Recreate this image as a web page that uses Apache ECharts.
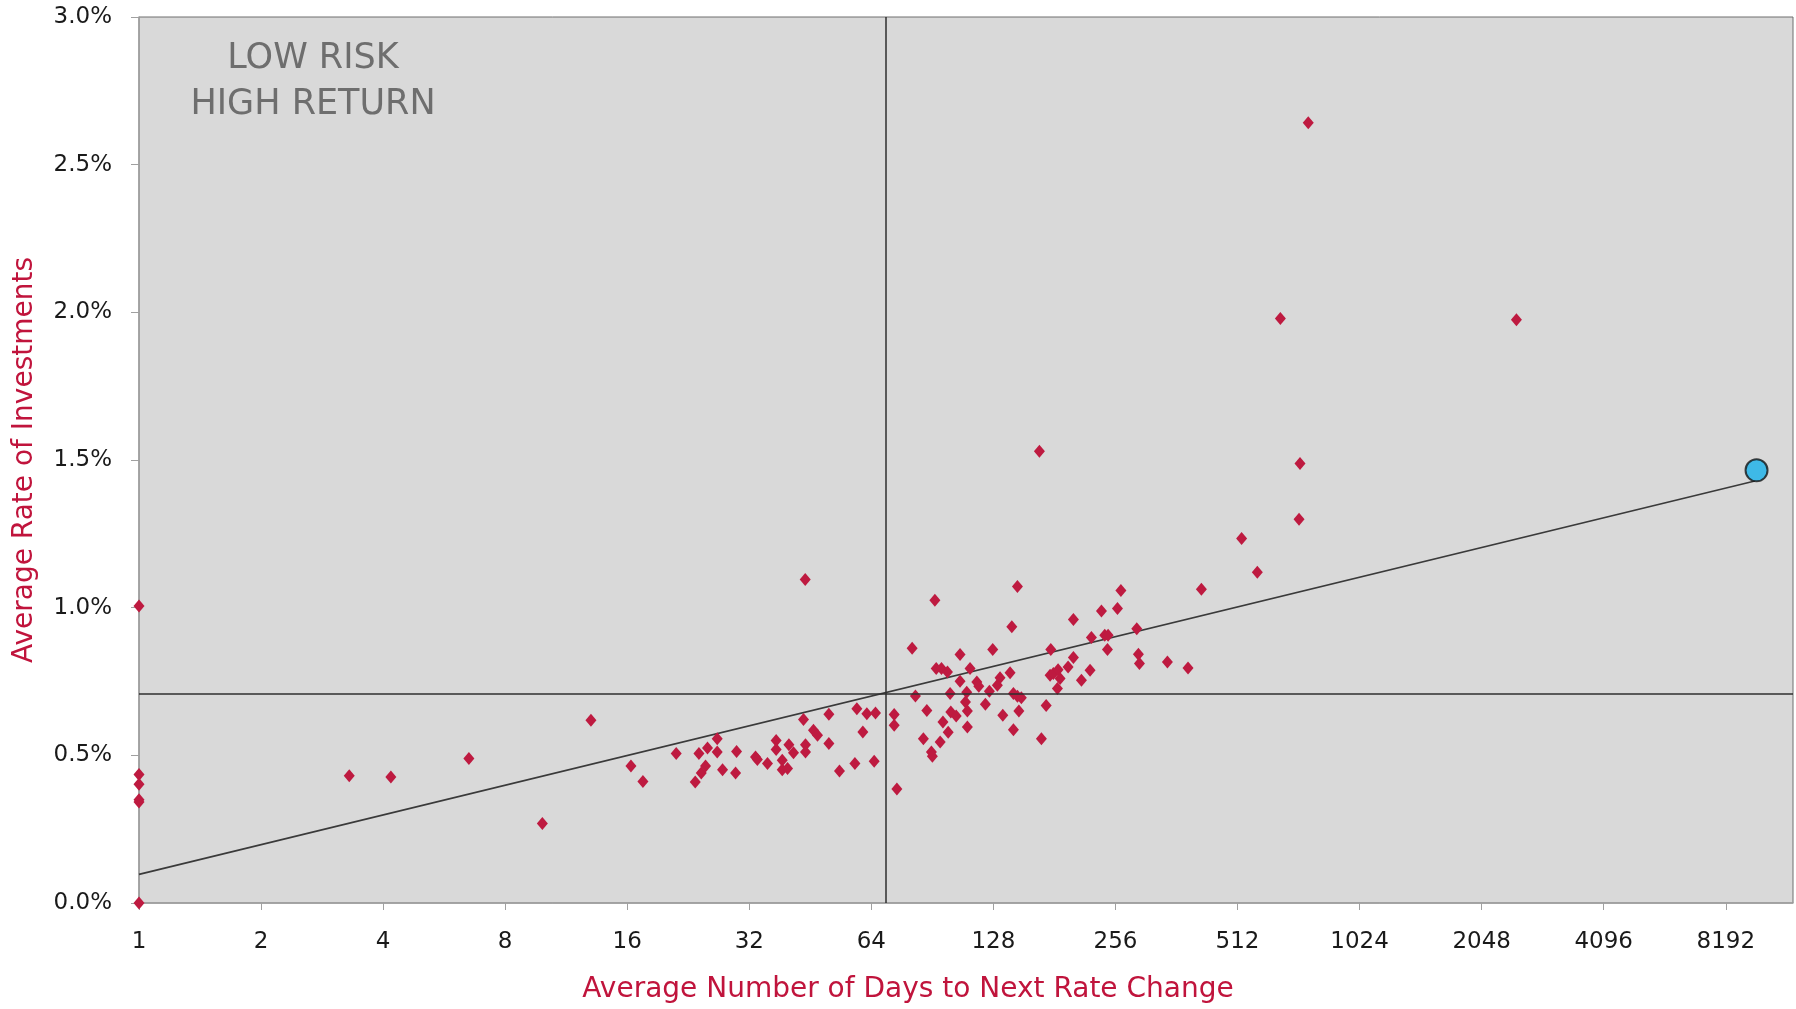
<!DOCTYPE html>
<html>
<head>
<meta charset="utf-8">
<script src="https://cdn.jsdelivr.net/npm/echarts@6/dist/echarts.min.js"></script>
<style>
html,body{margin:0;padding:0;background:#fff;}
#chart{width:1796px;height:1009px;}
</style>
</head>
<body>
<div id="chart"></div>
<script>
// Investments: average days to next rate change (x) and average rate in % (y)
const days = [
  1, 1, 1, 1, 1, 1,
  3.30, 4.18, 6.51, 9.88, 13.02,
  16.34, 17.49, 21.13, 24.04, 23.54, 24.36, 24.96, 25.24, 26.67, 26.67,
  27.49, 29.77, 29.60, 33.15, 33.5, 35.48, 37.27, 37.27, 38.58, 38.58,
  39.76, 40.07, 41.13, 43.53, 43.96, 44.03, 44.03, 46.07, 47.14, 50.28,
  50.28, 53.40, 58.29, 58.94, 60.98, 62.38, 65.52, 65.03, 72.86, 72.86,
  73.98, 80.68, 82.2, 87.7, 86.0, 91.8, 90.0, 90.5, 92.5, 95.3,
  98.6, 94.6, 96.1, 99.0, 100.5, 100.1, 103.6, 105.9, 105.9, 110.0,
  109.2, 110.4, 110.4, 112.1, 116.5, 117.8, 122.3, 125.1, 127.5, 130.9,
  132.9, 135.0, 140.7, 142.1, 146.7, 143.4, 146.7, 150.0, 147.9, 143.4,
  166.2, 168.1, 172.7, 177.3, 176.6, 179.9, 184.8, 186.9, 184.1, 195.6,
  201.6, 201.6, 211.0, 221.6, 223.3, 236.4, 240.9, 245.5, 244.6, 258.9,
  264, 288.9, 291.6, 293.3, 343.8, 386.5, 417.0, 524, 572.9, 653,
  726, 730, 765, 2495
];
const rates = [
  1.006, 0.435, 0.402, 0.350, 0.342, 0.0,
  0.431, 0.427, 0.489, 0.269, 0.619,
  0.464, 0.411, 0.506, 0.506, 0.410, 0.440, 0.464, 0.525, 0.556, 0.511,
  0.451, 0.513, 0.440, 0.494, 0.486, 0.472, 0.550, 0.520, 0.483, 0.451,
  0.455, 0.536, 0.509, 0.621, 1.095, 0.536, 0.511, 0.585, 0.568, 0.639,
  0.540, 0.447, 0.472, 0.658, 0.579, 0.641, 0.643, 0.480, 0.638, 0.602,
  0.386, 0.863, 0.701, 0.652, 0.556, 1.025, 0.511, 0.497, 0.794, 0.794,
  0.782, 0.545, 0.613, 0.578, 0.647, 0.709, 0.633, 0.841, 0.751, 0.714,
  0.681, 0.650, 0.596, 0.794, 0.748, 0.734, 0.673, 0.717, 0.858, 0.737,
  0.763, 0.636, 0.780, 0.935, 1.072, 0.709, 0.700, 0.695, 0.650, 0.587,
  1.530, 0.556, 0.669, 0.858, 0.771, 0.777, 0.790, 0.760, 0.726, 0.799,
  0.831, 0.960, 0.754, 0.788, 0.899, 0.989, 0.907, 0.907, 0.858, 0.997,
  1.058, 0.929, 0.842, 0.811, 0.816, 0.796, 1.062, 1.234, 1.120, 1.979,
  1.299, 1.488, 2.642, 1.975
];
// Highlighted portfolio point
const highlightDays = [9756];
const highlightRates = [1.465];
// Trend line end points
const trendDays = [1, 9662];
const trendRates = [0.097, 1.429];
// Mean cross-hair
const meanDays = 69.6;
const meanRate = 0.712;
// Axis settings
const yTicks = [0, 0.5, 1.0, 1.5, 2.0, 2.5, 3.0];
const xMin = 1, xMax = 12000;

const FONT = "'DejaVu Sans', sans-serif";
const scatterData = days.map((d, i) => [d, rates[i]]);
const highlightData = highlightDays.map((d, i) => [d, highlightRates[i]]);
const trendData = trendDays.map((d, i) => [d, trendRates[i]]);

const chart = echarts.init(document.getElementById('chart'));
chart.setOption({
  animation: false,
  backgroundColor: '#ffffff',
  textStyle: { fontFamily: FONT },
  grid: {
    left: 139, right: 3, top: 17, bottom: 106,
    show: true, backgroundColor: '#d9d9d9', borderColor: '#6e6e6e', borderWidth: 1
  },
  graphic: [{
    type: 'text',
    left: 313 - 160, top: 36,
    style: {
      text: 'LOW RISK\nHIGH RETURN',
      x: 160, width: 320,
      textAlign: 'center',
      fill: '#6e6e6e',
      font: "35px " + FONT,
      lineHeight: 46
    }
  }],
  xAxis: {
    type: 'log', logBase: 2, min: xMin, max: xMax, interval: 1,
    name: 'Average Number of Days to Next Rate Change',
    nameLocation: 'middle', nameGap: 73,
    nameTextStyle: { color: '#c0143c', fontSize: 28, fontFamily: FONT, padding: [0, 116, 0, 0] },
    axisLine: { show: true, lineStyle: { color: '#a0a0a0', width: 1.5 } },
    axisTick: { show: true, inside: false, length: 7, lineStyle: { color: '#a0a0a0' } },
    axisLabel: {
      color: '#1a1a1a', fontSize: 23, margin: 28, fontFamily: FONT,
      showMaxLabel: false,
      formatter: v => String(Math.round(v))
    },
    splitLine: { show: false }
  },
  yAxis: {
    type: 'value', min: yTicks[0], max: yTicks[yTicks.length - 1], interval: 0.5,
    name: 'Average Rate of Investments',
    nameLocation: 'middle', nameGap: 100, nameRotate: 90,
    nameTextStyle: { color: '#c0143c', fontSize: 28, fontFamily: FONT },
    axisLine: { show: true, lineStyle: { color: '#a0a0a0', width: 1.5 } },
    axisTick: { show: true, inside: false, length: 8, lineStyle: { color: '#a0a0a0' } },
    axisLabel: {
      color: '#1a1a1a', fontSize: 23, margin: 27, fontFamily: FONT,
      formatter: v => v.toFixed(1) + '%'
    },
    splitLine: { show: false }
  },
  series: [
    {
      type: 'line', data: trendData, symbol: 'none', silent: true, z: 2,
      lineStyle: { color: '#3a3a3a', width: 1.6 },
      markLine: {
        silent: true, symbol: 'none', label: { show: false },
        lineStyle: { color: '#2e2e2e', width: 1.5, type: 'solid' },
        data: [{ xAxis: meanDays }, { yAxis: meanRate }]
      }
    },
    {
      type: 'scatter', data: scatterData, symbol: 'diamond', symbolSize: [11, 13], z: 3,
      itemStyle: { color: '#be1a40', opacity: 1 }
    },
    {
      type: 'scatter', data: highlightData, symbol: 'circle', symbolSize: 22, z: 4,
      itemStyle: { color: '#16b0ea', borderColor: '#151515', borderWidth: 2 }
    }
  ]
});
</script>
</body>
</html>
